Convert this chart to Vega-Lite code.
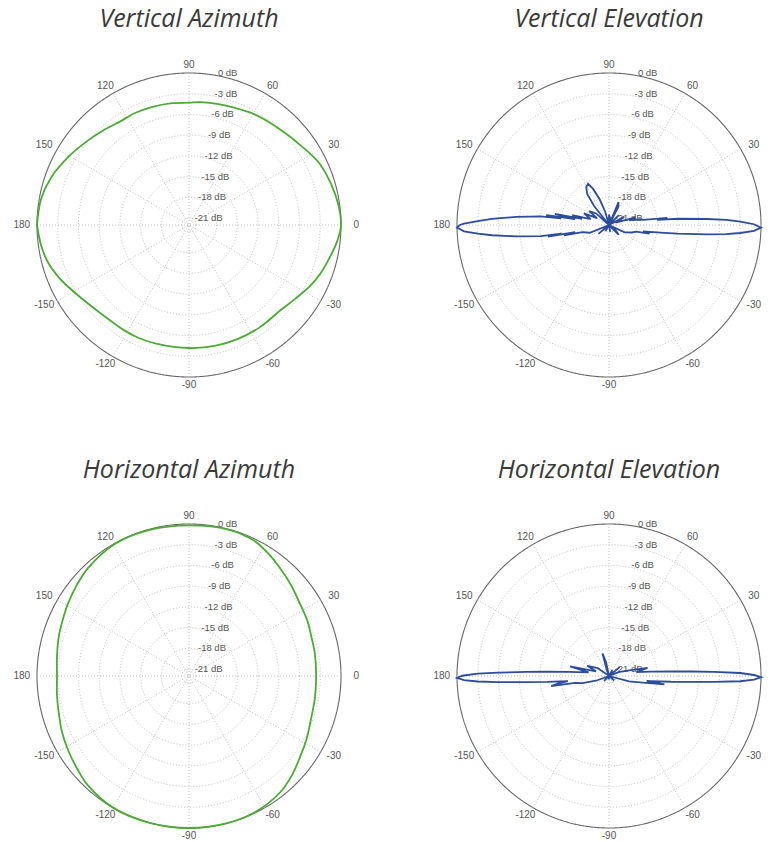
{
  "$schema": "https://vega.github.io/schema/vega-lite/v6.json",
  "background": "white",
  "padding": {"left": 13, "top": 6, "right": 0, "bottom": 0},
  "bounds": "flush",
  "columns": 2,
  "spacing": {"row": 101, "column": 70},
  "config": {"view": {"stroke": null}},
  "datasets": {
    "rings": [{"db": -21, "label": "-21 dB"}, {"db": -18, "label": "-18 dB"}, {"db": -15, "label": "-15 dB"}, {"db": -12, "label": "-12 dB"}, {"db": -9, "label": "-9 dB"}, {"db": -6, "label": "-6 dB"}, {"db": -3, "label": "-3 dB"}, {"db": 0, "label": "0 dB"}],
    "spokes": [{"a": 0}, {"a": 30}, {"a": 60}, {"a": 90}, {"a": 120}, {"a": 150}],
    "alabels": [{"a": 0, "t": "0"}, {"a": 30, "t": "30"}, {"a": 60, "t": "60"}, {"a": 90, "t": "90"}, {"a": 120, "t": "120"}, {"a": 150, "t": "150"}, {"a": 180, "t": "180"}, {"a": -150, "t": "-150"}, {"a": -120, "t": "-120"}, {"a": -90, "t": "-90"}, {"a": -60, "t": "-60"}, {"a": -30, "t": "-30"}],
    "va": [{"a": -180, "db": 0}, {"a": -172, "db": -0.4}, {"a": -165, "db": -0.9}, {"a": -158, "db": -1.7}, {"a": -151, "db": -2.6}, {"a": -142, "db": -3.5}, {"a": -133, "db": -4.0}, {"a": -122, "db": -4.1}, {"a": -114, "db": -4.1}, {"a": -105, "db": -4.2}, {"a": -90, "db": -4.2}, {"a": -78, "db": -4.1}, {"a": -67, "db": -4.05}, {"a": -55, "db": -4.0}, {"a": -43, "db": -3.9}, {"a": -35, "db": -3.3}, {"a": -27, "db": -2.4}, {"a": -20, "db": -1.7}, {"a": -12, "db": -1.0}, {"a": -6, "db": -0.4}, {"a": 0, "db": 0}, {"a": 8, "db": -0.2}, {"a": 16, "db": -0.6}, {"a": 25, "db": -1.1}, {"a": 30, "db": -1.6}, {"a": 36, "db": -2.2}, {"a": 43, "db": -2.7}, {"a": 51, "db": -3.1}, {"a": 60, "db": -3.4}, {"a": 69, "db": -3.8}, {"a": 77, "db": -4.0}, {"a": 85, "db": -4.15}, {"a": 90, "db": -4.3}, {"a": 98, "db": -4.2}, {"a": 108, "db": -4.1}, {"a": 116, "db": -4.0}, {"a": 124, "db": -4.0}, {"a": 131, "db": -3.6}, {"a": 140, "db": -2.95}, {"a": 150, "db": -2.0}, {"a": 161, "db": -0.9}, {"a": 170, "db": -0.26}, {"a": 180, "db": 0}],
    "ha": [{"a": -180, "db": -2.9}, {"a": -172, "db": -2.7}, {"a": -164, "db": -2.4}, {"a": -156, "db": -1.9}, {"a": -148, "db": -1.45}, {"a": -140, "db": -0.95}, {"a": -133, "db": -0.46}, {"a": -120, "db": 0}, {"a": -105, "db": 0}, {"a": -90, "db": 0}, {"a": -75, "db": 0}, {"a": -64, "db": -0.1}, {"a": -52, "db": -0.6}, {"a": -44, "db": -1.3}, {"a": -36.5, "db": -2.07}, {"a": -28, "db": -2.7}, {"a": -21, "db": -3.2}, {"a": -10, "db": -3.5}, {"a": 0, "db": -3.6}, {"a": 10, "db": -3.5}, {"a": 17.7, "db": -3.4}, {"a": 25, "db": -3.1}, {"a": 33.6, "db": -2.8}, {"a": 42, "db": -2.2}, {"a": 50, "db": -1.56}, {"a": 57, "db": -0.9}, {"a": 64.6, "db": -0.25}, {"a": 75, "db": -0.05}, {"a": 90, "db": -0.2}, {"a": 105, "db": -0.1}, {"a": 119, "db": -0.07}, {"a": 133, "db": -0.6}, {"a": 141, "db": -1.1}, {"a": 148.6, "db": -1.56}, {"a": 156, "db": -2.0}, {"a": 163, "db": -2.3}, {"a": 172, "db": -2.7}, {"a": 180, "db": -2.9}],
    "ve": [{"a": -180, "db": -0.4}, {"a": -179, "db": 0}, {"a": -177.5, "db": -1}, {"a": -176.2, "db": -3}, {"a": -175, "db": -5}, {"a": -173, "db": -8.5}, {"a": -170.8, "db": -12}, {"a": -169.8, "db": -15}, {"a": -169.2, "db": -13}, {"a": -168, "db": -17}, {"a": -167, "db": -15.3}, {"a": -165, "db": -18}, {"a": -158, "db": -19}, {"a": -150, "db": -22}, {"a": -140, "db": -20}, {"a": -130, "db": -22}, {"a": -120, "db": -21}, {"a": -100, "db": -22}, {"a": -80, "db": -21}, {"a": -60, "db": -22}, {"a": -45, "db": -20}, {"a": -35, "db": -21}, {"a": -30, "db": -22}, {"a": -25, "db": -19.5}, {"a": -18, "db": -18.5}, {"a": -14, "db": -18}, {"a": -12, "db": -16}, {"a": -10.5, "db": -17}, {"a": -8.5, "db": -14.5}, {"a": -7.2, "db": -12}, {"a": -5.5, "db": -7.8}, {"a": -4.5, "db": -5}, {"a": -3.5, "db": -3}, {"a": -2.3, "db": -1}, {"a": -1, "db": 0}, {"a": 0.3, "db": -1}, {"a": 1.5, "db": -3}, {"a": 2.5, "db": -5}, {"a": 3.5, "db": -7.8}, {"a": 5.2, "db": -12}, {"a": 6, "db": -15}, {"a": 7, "db": -13.5}, {"a": 8.5, "db": -17}, {"a": 10.6, "db": -17.4}, {"a": 13, "db": -19}, {"a": 16, "db": -18}, {"a": 20, "db": -21}, {"a": 28, "db": -19.5}, {"a": 35, "db": -22}, {"a": 45, "db": -20}, {"a": 55, "db": -22}, {"a": 63, "db": -19}, {"a": 67.5, "db": -18.4}, {"a": 70, "db": -22}, {"a": 80, "db": -21}, {"a": 90, "db": -20.5}, {"a": 100, "db": -22}, {"a": 106, "db": -20}, {"a": 110, "db": -18}, {"a": 114, "db": -16.2}, {"a": 117, "db": -15.3}, {"a": 121, "db": -15.6}, {"a": 125, "db": -16.5}, {"a": 128, "db": -18.5}, {"a": 132, "db": -22}, {"a": 138, "db": -19.5}, {"a": 145, "db": -18.5}, {"a": 150, "db": -20}, {"a": 155, "db": -18}, {"a": 162, "db": -19.2}, {"a": 165, "db": -16.5}, {"a": 167, "db": -18}, {"a": 168.5, "db": -14}, {"a": 170, "db": -17}, {"a": 171, "db": -12.8}, {"a": 172, "db": -15}, {"a": 172.8, "db": -12}, {"a": 175, "db": -8.5}, {"a": 177, "db": -5}, {"a": 178.3, "db": -3}, {"a": 179.5, "db": -1}, {"a": 180, "db": -0.4}],
    "he": [{"a": -180, "db": -0.6}, {"a": -179.3, "db": 0}, {"a": -178.4, "db": -1}, {"a": -177.6, "db": -3}, {"a": -176.8, "db": -6}, {"a": -175.8, "db": -10}, {"a": -174.5, "db": -13}, {"a": -172.8, "db": -16}, {"a": -171.5, "db": -14.5}, {"a": -170, "db": -13.5}, {"a": -168.5, "db": -17}, {"a": -165, "db": -18}, {"a": -160, "db": -20}, {"a": -150, "db": -22}, {"a": -135, "db": -21}, {"a": -120, "db": -22}, {"a": -90, "db": -21.5}, {"a": -60, "db": -22}, {"a": -40, "db": -21}, {"a": -25, "db": -22}, {"a": -15, "db": -19}, {"a": -11, "db": -17}, {"a": -8.5, "db": -13.9}, {"a": -7.5, "db": -16.5}, {"a": -7, "db": -16}, {"a": -5.3, "db": -13}, {"a": -4.1, "db": -10}, {"a": -3.2, "db": -6.8}, {"a": -2.3, "db": -3}, {"a": -1.4, "db": -1}, {"a": -0.5, "db": 0}, {"a": 0.4, "db": -1}, {"a": 1.3, "db": -3}, {"a": 2.2, "db": -6.8}, {"a": 3.1, "db": -10}, {"a": 4.3, "db": -13}, {"a": 6, "db": -16}, {"a": 8, "db": -18}, {"a": 12, "db": -16.3}, {"a": 16, "db": -19}, {"a": 22, "db": -20.5}, {"a": 30, "db": -22}, {"a": 40, "db": -20}, {"a": 50, "db": -22}, {"a": 60, "db": -21}, {"a": 75, "db": -22}, {"a": 95, "db": -22}, {"a": 102, "db": -20}, {"a": 106, "db": -18.6}, {"a": 110, "db": -21}, {"a": 130, "db": -22}, {"a": 145, "db": -20}, {"a": 155, "db": -18.5}, {"a": 160, "db": -20}, {"a": 166, "db": -16.2}, {"a": 170, "db": -19}, {"a": 174.2, "db": -16}, {"a": 175.9, "db": -13}, {"a": 177.2, "db": -10}, {"a": 178.2, "db": -6}, {"a": 179, "db": -3}, {"a": 179.8, "db": -1}, {"a": 180, "db": -0.6}]
  },
  "concat": [
    {
      "title": {"text": "Vertical Azimuth", "font": "Open Sans", "fontSize": 25, "fontStyle": "italic", "fontWeight": "normal", "color": "#3a3a3a", "anchor": "middle", "baseline": "alphabetic", "offset": -1.5},
      "width": 350, "height": 350,
      "encoding": {
        "x": {"field": "x", "type": "quantitative", "scale": {"domain": [-1.1513, 1.1513]}, "axis": null},
        "y": {"field": "y", "type": "quantitative", "scale": {"domain": [-1.1513, 1.1513]}, "axis": null}
      },
      "layer": [
        {"data": {"name": "rings"}, "transform": [{"calculate": "datum.db + 22", "as": "v"}, {"calculate": "0", "as": "x"}, {"calculate": "0", "as": "y"}], "mark": {"type": "point", "shape": "circle", "filled": false, "opacity": 1, "stroke": "#b8b8b8", "strokeWidth": 0.9, "strokeDash": [1, 2]},
         "encoding": {"size": {"field": "v", "type": "quantitative", "scale": {"type": "pow", "exponent": 2, "domain": [0, 22], "range": [0, 92416]}, "legend": null},
                      "stroke": {"condition": {"test": "datum.db == 0", "value": "#666666"}, "value": "#b8b8b8"},
                      "strokeWidth": {"condition": {"test": "datum.db == 0", "value": 1.1}, "value": 0.9},
                      "strokeDash": {"condition": {"test": "datum.db == 0", "value": [1, 0]}, "value": [1, 2]}}},
        {"data": {"name": "spokes"}, "transform": [{"calculate": "cos(datum.a*PI/180)", "as": "x"}, {"calculate": "sin(datum.a*PI/180)", "as": "y"}, {"calculate": "-datum.x", "as": "x2"}, {"calculate": "-datum.y", "as": "y2"}], "mark": {"type": "rule", "stroke": "#b8b8b8", "strokeWidth": 0.9, "strokeDash": [1, 2]},
         "encoding": {"x2": {"field": "x2"}, "y2": {"field": "y2"}}},
        {"data": {"name": "rings"}, "transform": [{"calculate": "(datum.db+22)/22", "as": "u"}, {"calculate": "datum.u*0.16+0.03", "as": "x"}, {"calculate": "datum.u", "as": "y"}], "mark": {"type": "text", "align": "left", "baseline": "middle", "font": "Liberation Sans", "fontSize": 9.5, "color": "#555555"},
         "encoding": {"text": {"field": "label"}}},
        {"data": {"name": "alabels"}, "transform": [{"calculate": "1.1*cos(datum.a*PI/180)", "as": "x"}, {"calculate": "1.055*sin(datum.a*PI/180)", "as": "y"}], "mark": {"type": "text", "align": "center", "baseline": "middle", "font": "Liberation Sans", "fontSize": 10, "color": "#555555"},
         "encoding": {"text": {"field": "t"}}},
        {"data": {"name": "va"}, "transform": [{"calculate": "max(0,(datum.db+22)/22)", "as": "u"}, {"calculate": "datum.u*cos(datum.a*PI/180)", "as": "x"}, {"calculate": "datum.u*sin(datum.a*PI/180)", "as": "y"}], "mark": {"type": "line", "color": "#4caa36", "strokeWidth": 1.8, "interpolate": "catmull-rom"},
         "encoding": {"order": {"field": "a", "type": "quantitative"}}}
      ]
    },
    {
      "title": {"text": "Vertical Elevation", "font": "Open Sans", "fontSize": 25, "fontStyle": "italic", "fontWeight": "normal", "color": "#3a3a3a", "anchor": "middle", "baseline": "alphabetic", "offset": -1.5, "dx": 7.5},
      "width": 335, "height": 350,
      "encoding": {
        "x": {"field": "x", "type": "quantitative", "scale": {"domain": [-1.1513, 1.0526]}, "axis": null},
        "y": {"field": "y", "type": "quantitative", "scale": {"domain": [-1.1513, 1.1513]}, "axis": null}
      },
      "layer": [
        {"data": {"name": "rings"}, "transform": [{"calculate": "datum.db + 22", "as": "v"}, {"calculate": "0", "as": "x"}, {"calculate": "0", "as": "y"}], "mark": {"type": "point", "shape": "circle", "filled": false, "opacity": 1, "stroke": "#b8b8b8", "strokeWidth": 0.9, "strokeDash": [1, 2]},
         "encoding": {"size": {"field": "v", "type": "quantitative", "scale": {"type": "pow", "exponent": 2, "domain": [0, 22], "range": [0, 92416]}, "legend": null},
                      "stroke": {"condition": {"test": "datum.db == 0", "value": "#666666"}, "value": "#b8b8b8"},
                      "strokeWidth": {"condition": {"test": "datum.db == 0", "value": 1.1}, "value": 0.9},
                      "strokeDash": {"condition": {"test": "datum.db == 0", "value": [1, 0]}, "value": [1, 2]}}},
        {"data": {"name": "spokes"}, "transform": [{"calculate": "cos(datum.a*PI/180)", "as": "x"}, {"calculate": "sin(datum.a*PI/180)", "as": "y"}, {"calculate": "-datum.x", "as": "x2"}, {"calculate": "-datum.y", "as": "y2"}], "mark": {"type": "rule", "stroke": "#b8b8b8", "strokeWidth": 0.9, "strokeDash": [1, 2]},
         "encoding": {"x2": {"field": "x2"}, "y2": {"field": "y2"}}},
        {"data": {"name": "rings"}, "transform": [{"calculate": "(datum.db+22)/22", "as": "u"}, {"calculate": "datum.u*0.16+0.03", "as": "x"}, {"calculate": "datum.u", "as": "y"}], "mark": {"type": "text", "align": "left", "baseline": "middle", "font": "Liberation Sans", "fontSize": 9.5, "color": "#555555"},
         "encoding": {"text": {"field": "label"}}},
        {"data": {"name": "alabels"}, "transform": [{"filter": "datum.a != 0"}, {"calculate": "1.1*cos(datum.a*PI/180)", "as": "x"}, {"calculate": "1.055*sin(datum.a*PI/180)", "as": "y"}], "mark": {"type": "text", "align": "center", "baseline": "middle", "font": "Liberation Sans", "fontSize": 10, "color": "#555555"},
         "encoding": {"text": {"field": "t"}}},
        {"data": {"name": "ve"}, "transform": [{"calculate": "max(0,(datum.db+22)/22)", "as": "u"}, {"calculate": "datum.u*cos(datum.a*PI/180)", "as": "x"}, {"calculate": "datum.u*sin(datum.a*PI/180)", "as": "y"}], "mark": {"type": "line", "color": "#2d4c9c", "strokeWidth": 1.8, "interpolate": "linear"},
         "encoding": {"order": {"field": "a", "type": "quantitative"}}}
      ]
    },
    {
      "title": {"text": "Horizontal Azimuth", "font": "Open Sans", "fontSize": 25, "fontStyle": "italic", "fontWeight": "normal", "color": "#3a3a3a", "anchor": "middle", "baseline": "alphabetic", "offset": -1.5},
      "width": 350, "height": 342,
      "encoding": {
        "x": {"field": "x", "type": "quantitative", "scale": {"domain": [-1.1513, 1.1513]}, "axis": null},
        "y": {"field": "y", "type": "quantitative", "scale": {"domain": [-1.0987, 1.1513]}, "axis": null}
      },
      "layer": [
        {"data": {"name": "rings"}, "transform": [{"calculate": "datum.db + 22", "as": "v"}, {"calculate": "0", "as": "x"}, {"calculate": "0", "as": "y"}], "mark": {"type": "point", "shape": "circle", "filled": false, "opacity": 1, "stroke": "#b8b8b8", "strokeWidth": 0.9, "strokeDash": [1, 2]},
         "encoding": {"size": {"field": "v", "type": "quantitative", "scale": {"type": "pow", "exponent": 2, "domain": [0, 22], "range": [0, 92416]}, "legend": null},
                      "stroke": {"condition": {"test": "datum.db == 0", "value": "#666666"}, "value": "#b8b8b8"},
                      "strokeWidth": {"condition": {"test": "datum.db == 0", "value": 1.1}, "value": 0.9},
                      "strokeDash": {"condition": {"test": "datum.db == 0", "value": [1, 0]}, "value": [1, 2]}}},
        {"data": {"name": "spokes"}, "transform": [{"calculate": "cos(datum.a*PI/180)", "as": "x"}, {"calculate": "sin(datum.a*PI/180)", "as": "y"}, {"calculate": "-datum.x", "as": "x2"}, {"calculate": "-datum.y", "as": "y2"}], "mark": {"type": "rule", "stroke": "#b8b8b8", "strokeWidth": 0.9, "strokeDash": [1, 2]},
         "encoding": {"x2": {"field": "x2"}, "y2": {"field": "y2"}}},
        {"data": {"name": "rings"}, "transform": [{"calculate": "(datum.db+22)/22", "as": "u"}, {"calculate": "datum.u*0.16+0.03", "as": "x"}, {"calculate": "datum.u", "as": "y"}], "mark": {"type": "text", "align": "left", "baseline": "middle", "font": "Liberation Sans", "fontSize": 9.5, "color": "#555555"},
         "encoding": {"text": {"field": "label"}}},
        {"data": {"name": "alabels"}, "transform": [{"calculate": "1.1*cos(datum.a*PI/180)", "as": "x"}, {"calculate": "1.055*sin(datum.a*PI/180)", "as": "y"}], "mark": {"type": "text", "align": "center", "baseline": "middle", "font": "Liberation Sans", "fontSize": 10, "color": "#555555"},
         "encoding": {"text": {"field": "t"}}},
        {"data": {"name": "ha"}, "transform": [{"calculate": "max(0,(datum.db+22)/22)", "as": "u"}, {"calculate": "datum.u*cos(datum.a*PI/180)", "as": "x"}, {"calculate": "datum.u*sin(datum.a*PI/180)", "as": "y"}], "mark": {"type": "line", "color": "#4caa36", "strokeWidth": 1.8, "interpolate": "catmull-rom"},
         "encoding": {"order": {"field": "a", "type": "quantitative"}}}
      ]
    },
    {
      "title": {"text": "Horizontal Elevation", "font": "Open Sans", "fontSize": 25, "fontStyle": "italic", "fontWeight": "normal", "color": "#3a3a3a", "anchor": "middle", "baseline": "alphabetic", "offset": -1.5, "dx": 7.5},
      "width": 335, "height": 342,
      "encoding": {
        "x": {"field": "x", "type": "quantitative", "scale": {"domain": [-1.1513, 1.0526]}, "axis": null},
        "y": {"field": "y", "type": "quantitative", "scale": {"domain": [-1.0987, 1.1513]}, "axis": null}
      },
      "layer": [
        {"data": {"name": "rings"}, "transform": [{"calculate": "datum.db + 22", "as": "v"}, {"calculate": "0", "as": "x"}, {"calculate": "0", "as": "y"}], "mark": {"type": "point", "shape": "circle", "filled": false, "opacity": 1, "stroke": "#b8b8b8", "strokeWidth": 0.9, "strokeDash": [1, 2]},
         "encoding": {"size": {"field": "v", "type": "quantitative", "scale": {"type": "pow", "exponent": 2, "domain": [0, 22], "range": [0, 92416]}, "legend": null},
                      "stroke": {"condition": {"test": "datum.db == 0", "value": "#666666"}, "value": "#b8b8b8"},
                      "strokeWidth": {"condition": {"test": "datum.db == 0", "value": 1.1}, "value": 0.9},
                      "strokeDash": {"condition": {"test": "datum.db == 0", "value": [1, 0]}, "value": [1, 2]}}},
        {"data": {"name": "spokes"}, "transform": [{"calculate": "cos(datum.a*PI/180)", "as": "x"}, {"calculate": "sin(datum.a*PI/180)", "as": "y"}, {"calculate": "-datum.x", "as": "x2"}, {"calculate": "-datum.y", "as": "y2"}], "mark": {"type": "rule", "stroke": "#b8b8b8", "strokeWidth": 0.9, "strokeDash": [1, 2]},
         "encoding": {"x2": {"field": "x2"}, "y2": {"field": "y2"}}},
        {"data": {"name": "rings"}, "transform": [{"calculate": "(datum.db+22)/22", "as": "u"}, {"calculate": "datum.u*0.16+0.03", "as": "x"}, {"calculate": "datum.u", "as": "y"}], "mark": {"type": "text", "align": "left", "baseline": "middle", "font": "Liberation Sans", "fontSize": 9.5, "color": "#555555"},
         "encoding": {"text": {"field": "label"}}},
        {"data": {"name": "alabels"}, "transform": [{"filter": "datum.a != 0"}, {"calculate": "1.1*cos(datum.a*PI/180)", "as": "x"}, {"calculate": "1.055*sin(datum.a*PI/180)", "as": "y"}], "mark": {"type": "text", "align": "center", "baseline": "middle", "font": "Liberation Sans", "fontSize": 10, "color": "#555555"},
         "encoding": {"text": {"field": "t"}}},
        {"data": {"name": "he"}, "transform": [{"calculate": "max(0,(datum.db+22)/22)", "as": "u"}, {"calculate": "datum.u*cos(datum.a*PI/180)", "as": "x"}, {"calculate": "datum.u*sin(datum.a*PI/180)", "as": "y"}], "mark": {"type": "line", "color": "#2d4c9c", "strokeWidth": 1.8, "interpolate": "linear"},
         "encoding": {"order": {"field": "a", "type": "quantitative"}}}
      ]
    }
  ]
}
